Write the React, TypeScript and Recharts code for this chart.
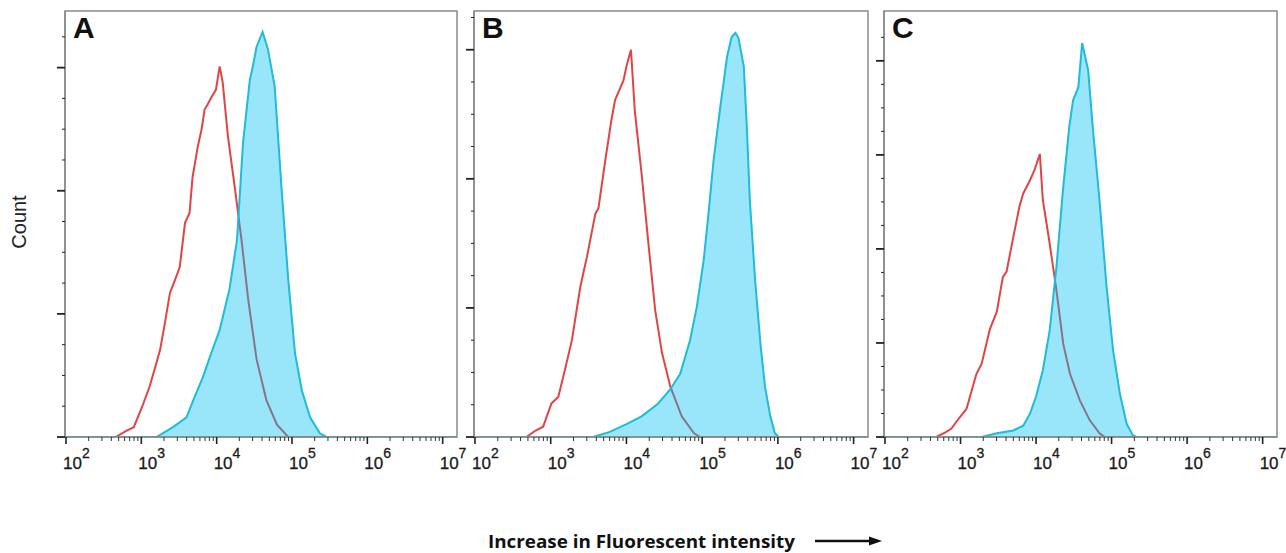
import { ComposedChart, Area, XAxis, YAxis, ReferenceArea } from 'recharts';

// x values are log10(fluorescence), y values are counts in major-tick units
const xDomain: [number, number] = [1.987, 7.19];
const decades = [2, 3, 4, 5, 6, 7];
const minorMultipliers = [2, 3, 4, 5, 6, 7, 8, 9];

const aRedX = [1.987, 2.66, 2.8, 2.9, 2.94, 3.02, 3.11, 3.2, 3.25, 3.3, 3.38, 3.45, 3.51, 3.58, 3.64, 3.68, 3.75, 3.8, 3.84, 3.88, 3.93, 3.99, 4.04, 4.08, 4.15, 4.24, 4.33, 4.42, 4.53, 4.66, 4.8, 4.95, 7.19];
const aRedY = [0, 0, 0.05, 0.08, 0.14, 0.26, 0.41, 0.6, 0.71, 0.88, 1.17, 1.28, 1.38, 1.74, 1.82, 2.11, 2.36, 2.5, 2.66, 2.7, 2.76, 2.82, 3.01, 2.88, 2.44, 2.03, 1.6, 1.11, 0.63, 0.3, 0.1, 0, 0];
const aBlueX = [1.987, 3.2, 3.42, 3.6, 3.69, 3.82, 3.91, 4.04, 4.17, 4.27, 4.35, 4.44, 4.48, 4.53, 4.61, 4.68, 4.77, 4.86, 4.95, 5.04, 5.13, 5.24, 5.37, 5.46, 7.19];
const aBlueY = [0, 0, 0.08, 0.16, 0.3, 0.49, 0.65, 0.87, 1.2, 1.6, 2.39, 2.9, 3.01, 3.17, 3.29, 3.15, 2.85, 2.03, 1.28, 0.68, 0.38, 0.16, 0.03, 0, 0];

const bRedX = [1.987, 2.68, 2.8, 2.9, 3.01, 3.1, 3.2, 3.28, 3.39, 3.48, 3.59, 3.63, 3.72, 3.8, 3.85, 3.9, 3.96, 4.0, 4.06, 4.11, 4.2, 4.29, 4.38, 4.47, 4.58, 4.73, 4.89, 4.97, 7.19];
const bRedY = [0, 0, 0.05, 0.08, 0.26, 0.31, 0.55, 0.75, 1.16, 1.4, 1.73, 1.77, 2.14, 2.45, 2.61, 2.68, 2.76, 2.87, 3.0, 2.53, 2.04, 1.5, 0.98, 0.65, 0.39, 0.16, 0.03, 0, 0];
const bBlueX = [1.987, 3.56, 3.78, 4.0, 4.2, 4.42, 4.58, 4.71, 4.84, 4.93, 5.02, 5.08, 5.15, 5.24, 5.33, 5.39, 5.44, 5.48, 5.55, 5.59, 5.63, 5.7, 5.77, 5.83, 5.9, 5.96, 6.01, 7.19];
const bBlueY = [0, 0, 0.04, 0.1, 0.16, 0.26, 0.37, 0.49, 0.75, 1.01, 1.37, 1.71, 2.14, 2.56, 2.95, 3.1, 3.13, 3.09, 2.87, 2.4, 1.83, 1.21, 0.72, 0.39, 0.16, 0.03, 0, 0];

const cRedX = [1.987, 2.68, 2.8, 2.88, 2.99, 3.08, 3.15, 3.21, 3.28, 3.39, 3.48, 3.56, 3.61, 3.7, 3.78, 3.83, 3.92, 3.98, 4.05, 4.09, 4.18, 4.27, 4.36, 4.45, 4.58, 4.71, 4.84, 4.91, 7.19];
const cRedY = [0, 0, 0.05, 0.09, 0.21, 0.3, 0.5, 0.67, 0.78, 1.15, 1.33, 1.7, 1.76, 2.13, 2.45, 2.59, 2.73, 2.84, 3.01, 2.52, 2.06, 1.56, 0.99, 0.67, 0.39, 0.18, 0.04, 0, 0];
const cBlueX = [1.987, 3.28, 3.48, 3.7, 3.83, 3.92, 4.0, 4.09, 4.18, 4.27, 4.36, 4.44, 4.49, 4.56, 4.61, 4.69, 4.75, 4.84, 4.93, 5.02, 5.11, 5.2, 5.28, 5.33, 7.19];
const cBlueY = [0, 0, 0.04, 0.07, 0.12, 0.25, 0.43, 0.71, 1.13, 1.81, 2.66, 3.3, 3.58, 3.72, 4.19, 3.9, 3.3, 2.52, 1.63, 0.92, 0.46, 0.14, 0.02, 0, 0];

const yTicksAB = [0, 0.25, 0.5, 0.75, 1, 1.25, 1.5, 1.75, 2, 2.25, 2.5, 2.75, 3, 3.25];
const yTicksC = [0, 0.25, 0.5, 0.75, 1, 1.25, 1.5, 1.75, 2, 2.25, 2.5, 2.75, 3, 3.25, 3.5, 3.75, 4, 4.25];

const xTicks = [
  ...decades,
  ...decades.slice(0, -1).flatMap((d) => minorMultipliers.map((m) => d + Math.log10(m))),
];

const toPoints = (xs: number[], ys: number[]) => xs.map((x, i) => ({ x, y: ys[i] }));

const RED = '#e04545';
const BLUE_LINE = '#1ebcd9';
const BLUE_FILL = '#00bdf0';
const FRAME = '#8a8a8a';
const FONT = '"Liberation Sans", Arial, sans-serif';

const XTick = (props: any) => {
  const { x, y, payload } = props;
  const v = payload.value;
  const major = Math.abs(v - Math.round(v)) < 1e-6;
  if (!major) {
    return <line x1={x} x2={x} y1={y} y2={y + 4} stroke="#333" strokeWidth={1} />;
  }
  return (
    <g>
      <line x1={x} x2={x} y1={y} y2={y + 7} stroke="#222" strokeWidth={1.6} />
      <text x={x - 3} y={y + 32} fontFamily={FONT} fontSize={17} fill="#1a1a1a" stroke="#1a1a1a" strokeWidth={0.3}>
        10
        <tspan dy={-11} fontSize={14}>{Math.round(v)}</tspan>
      </text>
    </g>
  );
};

const YTick = (props: any) => {
  const { x, y, payload } = props;
  const v = payload.value;
  const major = Math.abs(v - Math.round(v)) < 1e-6;
  return (
    <line
      x1={x}
      x2={x - (major ? 8 : 3)}
      y1={y}
      y2={y}
      stroke="#222"
      strokeWidth={major ? 1.8 : 1}
    />
  );
};

interface PanelProps {
  letter: string;
  plotLeft: number;
  plotRight: number;
  yMax: number;
  yTicks: number[];
  red: { x: number; y: number }[];
  blue: { x: number; y: number }[];
}

const PLOT_TOP = 11;
const PLOT_BOTTOM = 437;
const CHART_H = 500;
const X_AXIS_H = 30;

function Panel({ letter, plotLeft, plotRight, yMax, yTicks, red, blue }: PanelProps) {
  const left = plotLeft - 40;
  const width = plotRight - plotLeft + 50;
  return (
    <div style={{ position: 'absolute', left, top: 0, width, height: CHART_H }}>
      <ComposedChart
        width={width}
        height={CHART_H}
        margin={{ top: PLOT_TOP, right: 10, left: 20, bottom: CHART_H - PLOT_BOTTOM - X_AXIS_H }}
      >
        <XAxis
          type="number"
          dataKey="x"
          domain={xDomain}
          allowDataOverflow
          ticks={xTicks}
          interval={0}
          height={X_AXIS_H}
          tickSize={0}
          tickMargin={0}
          tickLine={false}
          axisLine={{ stroke: FRAME, strokeWidth: 1.5 }}
          tick={<XTick />}
        />
        <YAxis
          type="number"
          dataKey="y"
          domain={[0, yMax]}
          allowDataOverflow
          ticks={yTicks}
          interval={0}
          width={20}
          tickSize={0}
          tickMargin={0}
          tickLine={false}
          axisLine={{ stroke: FRAME, strokeWidth: 1.5 }}
          tick={<YTick />}
        />
        <ReferenceArea x1={xDomain[0]} x2={xDomain[1]} y1={0} y2={yMax} fill="none" stroke={FRAME} strokeWidth={1.5} />
        {/* red control histogram drawn as an unfilled area so the blue fill sits on top of it */}
        <Area
          data={red}
          dataKey="y"
          type="linear"
          stroke={RED}
          strokeWidth={2}
          fill="none"
          dot={false}
          activeDot={false}
          isAnimationActive={false}
        />
        <Area
          data={blue}
          dataKey="y"
          type="linear"
          stroke={BLUE_LINE}
          strokeWidth={2}
          fill={BLUE_FILL}
          fillOpacity={0.4}
          dot={false}
          activeDot={false}
          isAnimationActive={false}
        />
      </ComposedChart>
      <div
        style={{
          position: 'absolute',
          left: 48,
          top: 11,
          fontFamily: FONT,
          fontWeight: 700,
          fontSize: 30,
          lineHeight: '34px',
          color: '#111',
        }}
      >
        {letter}
      </div>
    </div>
  );
}

export default function App() {
  return (
    <div style={{ position: 'absolute', left: 0, top: 0, width: 1286, height: 553, background: '#fff' }}>
      <Panel letter="A" plotLeft={65} plotRight={457} yMax={3.46} yTicks={yTicksAB} red={toPoints(aRedX, aRedY)} blue={toPoints(aBlueX, aBlueY)} />
      <Panel letter="B" plotLeft={474} plotRight={868} yMax={3.3} yTicks={yTicksAB} red={toPoints(bRedX, bRedY)} blue={toPoints(bBlueX, bBlueY)} />
      <Panel letter="C" plotLeft={884} plotRight={1277} yMax={4.53} yTicks={yTicksC} red={toPoints(cRedX, cRedY)} blue={toPoints(cBlueX, cBlueY)} />
      <svg width={1286} height={553} style={{ position: 'absolute', left: 0, top: 0, pointerEvents: 'none' }}>
        <text
          x={0}
          y={0}
          transform="translate(26 222) rotate(-90)"
          textAnchor="middle"
          fontFamily={FONT}
          fontSize={20}
          fill="#222"
        >
          Count
        </text>
        <text
          x={488}
          y={548}
          fontFamily='"Open Sans", sans-serif'
          fontWeight={700}
          fontSize={18}
          fill="#111"
          textLength={307}
          lengthAdjust="spacingAndGlyphs"
        >
          Increase in Fluorescent intensity
        </text>
        <line x1={815} x2={872} y1={541} y2={541} stroke="#111" strokeWidth={2.5} />
        <polygon points="882,541 869,536.5 869,545.5" fill="#111" />
      </svg>
    </div>
  );
}
